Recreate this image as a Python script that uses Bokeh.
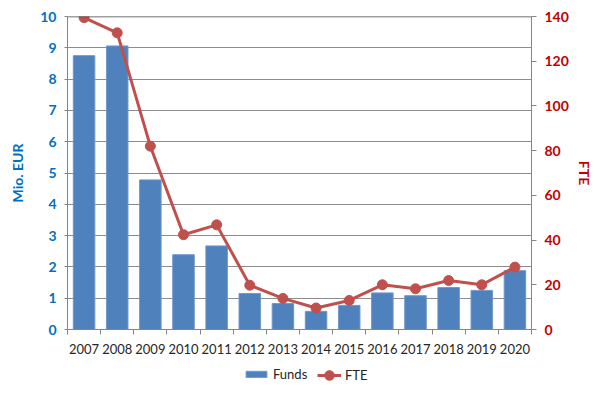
from bokeh.plotting import figure
from bokeh.layouts import column
from bokeh.models import (Range1d, LinearAxis, FixedTicker, Legend, LegendItem, Span, ColumnDataSource)
from bokeh.embed import file_html
from bokeh.resources import INLINE

years = ["2007", "2008", "2009", "2010", "2011", "2012", "2013",
         "2014", "2015", "2016", "2017", "2018", "2019", "2020"]
funds = [8.75, 9.06, 4.78, 2.39, 2.67, 1.15, 0.83, 0.58, 0.77, 1.17, 1.08, 1.34, 1.25, 1.88]
fte = [139.5, 132.7, 82.0, 42.4, 46.8, 19.8, 13.9, 9.6, 13.0, 20.0, 18.2, 21.9, 20.0, 27.9]
left_ticks = [0, 1, 2, 3, 4, 5, 6, 7, 8, 9, 10]
right_ticks = [0, 20, 40, 60, 80, 100, 120, 140]
series_names = ["Funds", "FTE"]

FONT = "Lato"
BLUE_TXT = "#0070C0"
RED_TXT = "#C00000"
BAR = "#4F81BD"
BAR_EDGE = "#7098CB"
LINE = "#C0504D"

n = len(years)
xpos = [i + 0.5 for i in range(n)]
src = ColumnDataSource(dict(x=xpos, funds=funds, fte=fte, year=years))

chart = figure(width=605, height=360,
               x_range=Range1d(0, n), y_range=Range1d(0, 10),
               output_backend="svg", toolbar_location=None,
               min_border_left=67, min_border_right=74, min_border_top=16, min_border_bottom=31,
               y_axis_location=None, x_axis_location=None)
chart.outline_line_color = None
chart.background_fill_color = "white"
chart.border_fill_color = "white"

chart.extra_y_ranges = {"fte": Range1d(0, 140)}

# left axis
ly = LinearAxis(ticker=FixedTicker(ticks=left_ticks), axis_label="Mio. EUR")
ly.axis_line_color = "#868686"
ly.major_tick_line_color = "#868686"
ly.major_tick_out = 3
ly.major_tick_in = 0
ly.minor_tick_line_color = None
ly.major_label_text_color = BLUE_TXT
ly.major_label_text_font = FONT
ly.major_label_text_font_style = "bold"
ly.major_label_text_font_size = "14px"
ly.major_label_standoff = 8
ly.axis_label_text_color = BLUE_TXT
ly.axis_label_text_font = FONT
ly.axis_label_text_font_style = "bold"
ly.axis_label_text_font_size = "14px"
ly.axis_label_standoff = 11
chart.add_layout(ly, "left")

# right axis
ry = LinearAxis(y_range_name="fte", ticker=FixedTicker(ticks=right_ticks), axis_label="FTE")
ry.axis_line_color = "#868686"
ry.major_tick_line_color = "#868686"
ry.major_tick_out = 5
ry.major_tick_in = 0
ry.minor_tick_line_color = None
ry.major_label_text_color = RED_TXT
ry.major_label_text_font = FONT
ry.major_label_text_font_style = "bold"
ry.major_label_text_font_size = "14px"
ry.major_label_standoff = 8
ry.axis_label_text_color = RED_TXT
ry.axis_label_text_font = FONT
ry.axis_label_text_font_style = "bold"
ry.axis_label_text_font_size = "14px"
ry.axis_label_standoff = 4
chart.add_layout(ry, "right")

# bottom axis: labels at category centres, ticks at category boundaries
bx = LinearAxis(ticker=FixedTicker(ticks=xpos, minor_ticks=list(range(n + 1))))
bx.major_label_overrides = {x: y for x, y in zip(xpos, years)}
bx.axis_line_color = "#868686"
bx.major_tick_line_color = None
bx.minor_tick_line_color = "#868686"
bx.minor_tick_out = 5
bx.minor_tick_in = 0
bx.major_label_text_color = "#262626"
bx.major_label_text_font = FONT
bx.major_label_text_font_size = "13px"
bx.major_label_standoff = 8
chart.add_layout(bx, "below")

chart.xgrid.visible = False
chart.ygrid.ticker = FixedTicker(ticks=left_ticks)
chart.ygrid.grid_line_color = "#8c8c8c"
chart.ygrid.grid_line_width = 1

chart.add_layout(Span(location=10, dimension="width", line_color="#404040", line_width=1.5))

chart.vbar(x="x", top="funds", width=0.65, bottom=0, source=src,
           fill_color=BAR, line_color=BAR_EDGE, line_width=1)
chart.line(x="x", y="fte", source=src, y_range_name="fte", line_color=LINE, line_width=3)
chart.scatter(x="x", y="fte", source=src, y_range_name="fte", size=10,
              fill_color=LINE, line_color=LINE)

# legend strip below the chart (hidden copies of the series supply the legend glyphs)
leg = figure(width=605, height=35, x_range=Range1d(0, n), y_range=Range1d(0, 10),
             output_backend="svg", toolbar_location=None,
             min_border=0, x_axis_location=None, y_axis_location=None)
leg.outline_line_color = None
leg.xgrid.visible = False
leg.ygrid.visible = False
leg.extra_y_ranges = {"fte": Range1d(0, 140)}
lb = leg.vbar(x="x", top="funds", width=0.65, bottom=0, source=src,
              fill_color=BAR, line_color=BAR_EDGE, line_width=1, visible=False)
ll = leg.line(x="x", y="fte", source=src, y_range_name="fte",
              line_color=LINE, line_width=3, visible=False)
lp = leg.scatter(x="x", y="fte", source=src, y_range_name="fte", size=10,
                 fill_color=LINE, line_color=LINE, visible=False)


def style_legend(lg, gw, gh):
    lg.border_line_color = None
    lg.background_fill_alpha = 0
    lg.inactive_fill_alpha = 0
    lg.label_text_font = FONT
    lg.label_text_font_size = "13px"
    lg.label_text_color = "#262626"
    lg.glyph_width = gw
    lg.glyph_height = gh
    lg.label_standoff = 4
    lg.padding = 2
    lg.margin = 0


legend_funds = Legend(items=[LegendItem(label=series_names[0], renderers=[lb])],
                      orientation="horizontal", location=(176, 13))
style_legend(legend_funds, 26, 8)
legend_fte = Legend(items=[LegendItem(label=series_names[1], renderers=[ll, lp])],
                    orientation="horizontal", location=(250, 8))
style_legend(legend_fte, 24, 24)
leg.add_layout(legend_funds, "center")
leg.add_layout(legend_fte, "center")

p = column(chart, leg, spacing=0)

open("out.html", "w").write(file_html(p, INLINE))
